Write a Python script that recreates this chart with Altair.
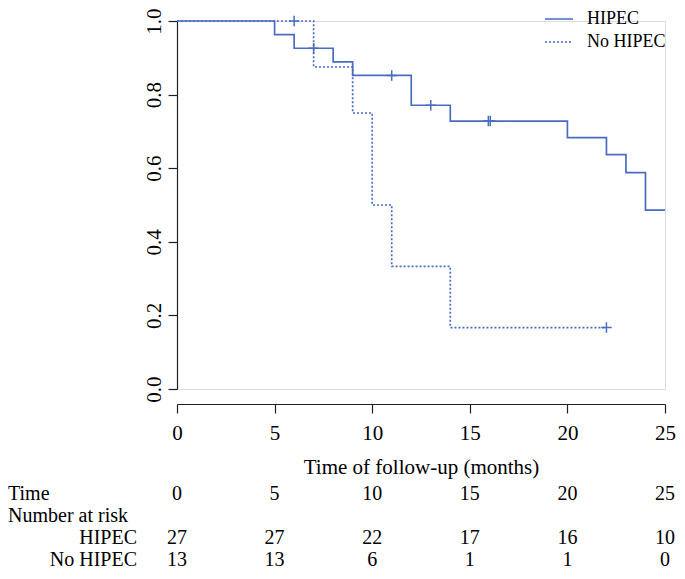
import altair as alt
import pandas as pd

BLUE = "#4a6cc0"
FONT = "Liberation Serif"
FS = 21
TAB_FS = 20
LEG_FS = 18

# Kaplan-Meier steps
hipec_time = [0, 5, 6, 8, 9, 12, 14, 20, 22, 23, 24, 25]
hipec_surv = [1.0, 0.963, 0.926, 0.889, 0.852, 0.771, 0.728, 0.683, 0.637, 0.588, 0.486, 0.486]
nohipec_time = [0, 7, 9, 10, 11, 14, 22]
nohipec_surv = [1.0, 0.875, 0.75, 0.5, 0.333, 0.167, 0.167]

# censor marks
hipec_cens_time = [7, 11, 13, 15.95, 16.05]
hipec_cens_surv = [0.926, 0.852, 0.771, 0.728, 0.728]
nohipec_cens_time = [6, 22]
nohipec_cens_surv = [1.0, 0.167]

# risk table
risk_times = [0, 5, 10, 15, 20, 25]
risk_hipec = [27, 27, 22, 17, 16, 10]
risk_nohipec = [13, 13, 6, 1, 1, 0]

groups = ["HIPEC", "No HIPEC"]
y_ticks = [0.0, 0.2, 0.4, 0.6, 0.8, 1.0]

curves = pd.DataFrame(
    {"group": ["HIPEC"] * len(hipec_time) + ["No HIPEC"] * len(nohipec_time),
     "time": hipec_time + nohipec_time,
     "surv": hipec_surv + nohipec_surv}
)
cens = pd.DataFrame(
    {"group": ["HIPEC"] * len(hipec_cens_time) + ["No HIPEC"] * len(nohipec_cens_time),
     "time": hipec_cens_time + nohipec_cens_time,
     "surv": hipec_cens_surv + nohipec_cens_surv}
)
risk_time_df = pd.DataFrame({"time": risk_times, "label": [str(t) for t in risk_times]})
risk_h_df = pd.DataFrame({"time": risk_times, "label": [str(v) for v in risk_hipec]})
risk_n_df = pd.DataFrame({"time": risk_times, "label": [str(v) for v in risk_nohipec]})

x_scale = alt.Scale(domain=[0, 25], nice=False, zero=False)
y_scale = alt.Scale(domain=[0, 1], nice=False)

x_axis = alt.Axis(
    values=risk_times, title="Time of follow-up (months)", offset=15,
    grid=False, tickSize=9, labelPadding=9, titlePadding=13,
    labelFont=FONT, labelFontSize=FS, titleFont=FONT, titleFontSize=FS,
    titleFontWeight="normal", labelColor="black", titleColor="black",
    domainColor="#222222", tickColor="#222222", domainWidth=1.2, tickWidth=1.2,
    labelFlush=False,
)
y_axis = alt.Axis(
    values=y_ticks, format=".1f", title=None, grid=False, tickSize=9,
    labelPadding=8, labelAngle=270, labelAlign="center", labelBaseline="alphabetic",
    labelFont=FONT, labelFontSize=FS, labelColor="black",
    domainColor="#222222", tickColor="#222222", domainWidth=1.2, tickWidth=1.2,
    labelFlush=False,
)

lines = alt.Chart(curves).mark_line(
    interpolate="step-after", color=BLUE, strokeWidth=1.7, clip=False
).encode(
    x=alt.X("time:Q", scale=x_scale, axis=x_axis),
    y=alt.Y("surv:Q", scale=y_scale, axis=y_axis),
    strokeDash=alt.StrokeDash(
        "group:N",
        scale=alt.Scale(domain=groups, range=[[1, 0], [2, 2]]),
        legend=alt.Legend(
            title=None, orient="none", legendX=371, legendY=-13,
            symbolType="M-1.4,0H1.4", symbolSize=400, symbolStrokeColor=BLUE,
            symbolFillColor="transparent",
            symbolStrokeWidth=1.5, labelFont=FONT, labelFontSize=LEG_FS,
            labelColor="black", labelOffset=17, rowPadding=3, padding=0,
        ),
    ),
)

points = alt.Chart(cens).mark_point(
    shape="M-1,0H1M0,-1V1", size=110, filled=False, color=BLUE,
    strokeWidth=1.5, opacity=1, clip=False
).encode(
    x=alt.X("time:Q", scale=x_scale),
    y=alt.Y("surv:Q", scale=y_scale),
)


def row_text(df, ypix):
    return alt.Chart(df).mark_text(
        font=FONT, fontSize=TAB_FS, color="black", align="center", baseline="middle"
    ).encode(
        x=alt.X("time:Q", scale=x_scale),
        y=alt.value(ypix),
        text="label:N",
    )


def side_label(text, xpix, ypix, align):
    return alt.Chart(pd.DataFrame({"label": [text]})).mark_text(
        font=FONT, fontSize=TAB_FS, color="black", align=align, baseline="middle"
    ).encode(
        x=alt.value(xpix),
        y=alt.value(ypix),
        text="label:N",
    )


layers = [
    lines, points,
    row_text(risk_time_df, 473),
    row_text(risk_h_df, 517),
    row_text(risk_n_df, 539),
    side_label("Time", -169, 473, "left"),
    side_label("Number at risk", -169, 495, "left"),
    side_label(groups[0], -40, 517, "right"),
    side_label(groups[1], -40, 539, "right"),
]

chart = alt.layer(*layers).properties(
    width=488, height=368,
    autosize=alt.AutoSizeParams(type="none"),
    padding={"left": 169, "top": 13, "right": 12, "bottom": 182},
).configure_view(stroke=None).configure(background="white")

chart.save("out.html", embed_options={"renderer": "svg", "actions": False})
